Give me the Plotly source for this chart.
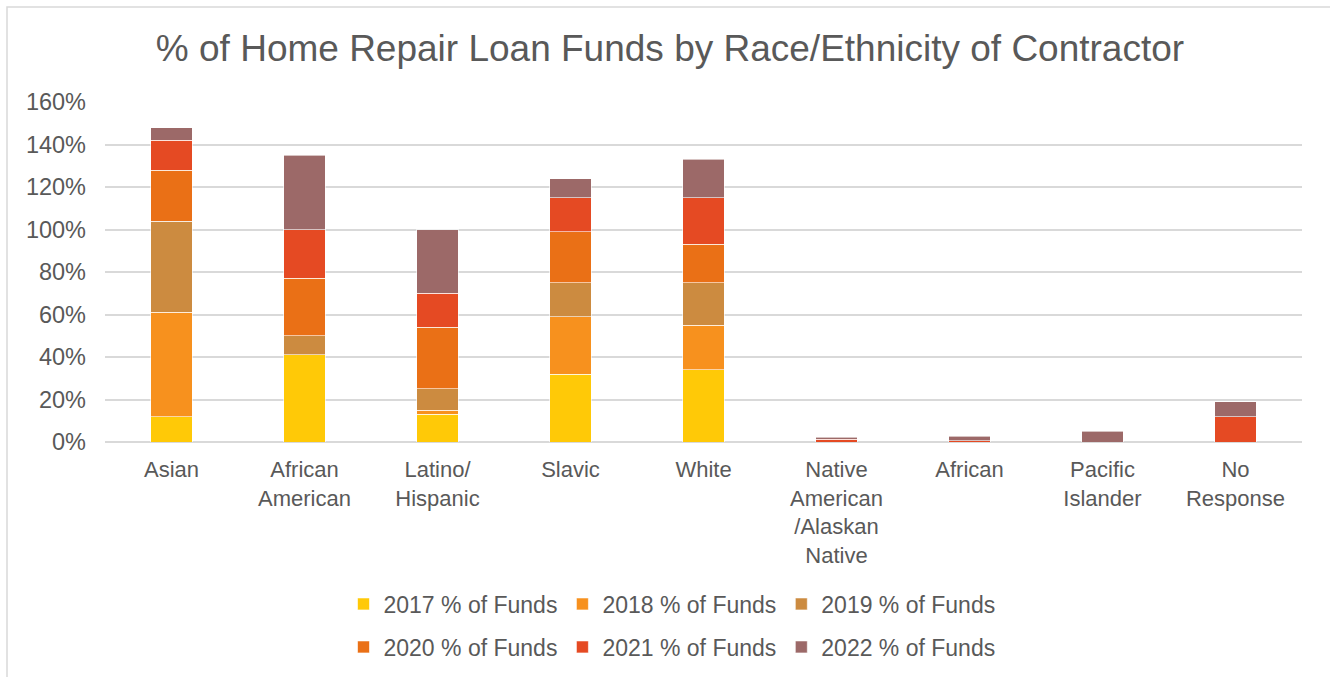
import plotly.graph_objects as go

categories = ["Asian", "African<br>American", "Latino/<br>Hispanic", "Slavic", "White",
              "Native<br>American<br>/Alaskan<br>Native", "African", "Pacific<br>Islander", "No<br>Response"]

series_names = ["2017 % of Funds", "2018 % of Funds", "2019 % of Funds",
                "2020 % of Funds", "2021 % of Funds", "2022 % of Funds"]

v2017 = [0.12, 0.41, 0.13, 0.32, 0.34, 0.0, 0.0, 0.0, 0.0]
v2018 = [0.49, 0.00, 0.02, 0.27, 0.21, 0.0, 0.0, 0.0, 0.0]
v2019 = [0.43, 0.09, 0.10, 0.16, 0.20, 0.0, 0.0, 0.0, 0.0]
v2020 = [0.24, 0.27, 0.29, 0.24, 0.18, 0.0, 0.0, 0.0, 0.0]
v2021 = [0.14, 0.23, 0.16, 0.16, 0.22, 0.012, 0.007, 0.0, 0.12]
v2022 = [0.06, 0.35, 0.30, 0.09, 0.18, 0.010, 0.020, 0.05, 0.07]

colors = ["#FFC907", "#F7911E", "#CC8B40", "#EA7016", "#E54A23", "#9C6968"]

ytick_vals = [0, 0.2, 0.4, 0.6, 0.8, 1.0, 1.2, 1.4, 1.6]
ytick_text = ["0%", "20%", "40%", "60%", "80%", "100%", "120%", "140%", "160%"]

FONT = "Liberation Sans, Arial, sans-serif"
TXT = "#595959"
FS = 23.5
LFS = 23

fig = go.Figure()
all_vals = [v2017, v2018, v2019, v2020, v2021, v2022]
for i, (name, vals, col) in enumerate(zip(series_names, all_vals, colors)):
    fig.add_trace(go.Bar(
        x=categories, y=vals, name=name,
        marker=dict(color=col, line=dict(color="rgba(255,255,255,0.6)", width=1)),
        legend="legend" if i < 3 else "legend2",
    ))

W, H = 1330, 677
L, R, T, B = 105, 28, 102, 235
pw, ph = W - L - R, H - T - B

def px_x(px):
    return (px - L) / pw

def px_y(py):
    return (H - B - py) / ph

def cy(py):
    return 1 - py / H

fig.update_layout(
    width=W, height=H,
    barmode="stack", bargap=0.69,
    paper_bgcolor="white", plot_bgcolor="white",
    margin=dict(l=L, r=R, t=T, b=B, autoexpand=False),
    font=dict(family=FONT, color=TXT, size=FS),
    title=dict(text="% of Home Repair Loan Funds by Race/Ethnicity of Contractor",
               x=px_x(670), xanchor="center", xref="paper",
               y=cy(48), yanchor="middle",
               font=dict(size=37, color=TXT, family=FONT)),
    xaxis=dict(showgrid=False, showline=False, ticks="", tickfont=dict(size=22, color=TXT),
               ticklabelstandoff=12, automargin=False),
    yaxis=dict(range=[0, 1.6], tickvals=ytick_vals, ticktext=ytick_text,
               showgrid=True, gridcolor="#D9D9D9", gridwidth=2,
               zeroline=True, zerolinecolor="#D9D9D9", zerolinewidth=2,
               showline=False, ticks="", tickfont=dict(size=FS, color=TXT),
               ticklabelstandoff=18, automargin=False),
    legend=dict(orientation="h", x=px_x(672), xanchor="center",
                y=px_y(604), yanchor="middle", font=dict(size=LFS, color=TXT),
                bgcolor="rgba(0,0,0,0)", itemclick=False, traceorder="normal"),
    legend2=dict(orientation="h", x=px_x(672), xanchor="center",
                 y=px_y(647), yanchor="middle", font=dict(size=LFS, color=TXT),
                 bgcolor="rgba(0,0,0,0)", itemclick=False, traceorder="normal"),
    showlegend=True,
)

fig.add_shape(type="rect", xref="paper", yref="paper",
              x0=px_x(7), x1=px_x(1345), y0=px_y(700), y1=px_y(7),
              line=dict(color="#D9D9D9", width=1.5), fillcolor="rgba(0,0,0,0)", layer="below")

post = ("var h=document.documentElement,b=document.body;"
        "h.style.margin='0';h.style.padding='0';h.style.overflow='hidden';h.style.height='677px';"
        "b.style.margin='0';b.style.padding='0';b.style.overflow='hidden';b.style.height='677px';")

fig.write_html("out.html", config={"displayModeBar": False}, post_script=post)
